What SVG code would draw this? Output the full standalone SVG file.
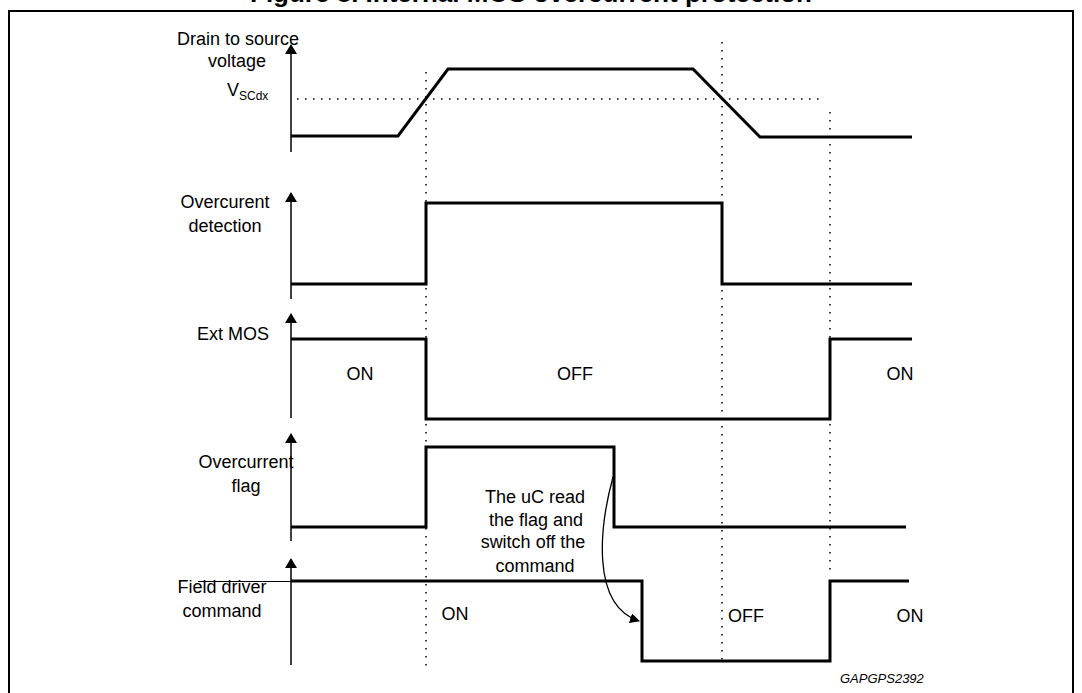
<svg xmlns="http://www.w3.org/2000/svg" width="1082" height="693" viewBox="0 0 1082 693">
<style>
text{font-family:"Liberation Sans",Arial,sans-serif;fill:#000}
.lbl{font-size:18px;text-anchor:middle}
.wave{fill:none;stroke:#000;stroke-width:3;stroke-linejoin:miter}
.axis{stroke:#000;stroke-width:1.5;fill:none}
.dot{stroke:#000;stroke-width:1.5;stroke-dasharray:1.5 6.5;fill:none}
</style>
<defs>
<marker id="ah" markerWidth="10" markerHeight="10" refX="9" refY="5" orient="auto" markerUnits="userSpaceOnUse">
<path d="M0,0 L10,5 L0,10 Z" fill="#000"/>
</marker>
</defs>
<text x="250" y="1.5" style="font-size:26px;font-weight:bold">Figure 8. Internal MOS overcurrent protection</text>
<rect x="9" y="11" width="1064" height="700" fill="none" stroke="#000" stroke-width="2"/>

<g id="guides">
<line class="dot" x1="297" y1="99" x2="824" y2="99"/>
<line class="dot" x1="426" y1="72" x2="426" y2="666"/>
<line class="dot" x1="722" y1="42" x2="722" y2="666"/>
<line class="dot" x1="830" y1="112" x2="830" y2="576"/>
</g>

<g id="drain-voltage">
<line class="axis" x1="291" y1="52" x2="291" y2="152"/>
<path d="M285,54 L291,44 L297,54 Z"/>
<text class="lbl" x="238" y="45">Drain to source</text>
<text class="lbl" x="237" y="67">voltage</text>
<text x="227" y="96" style="font-size:18px">V<tspan dy="4" style="font-size:12px">SCdx</tspan></text>
<path class="wave" d="M291,136 L398,136 L448,69 L693,69 L760,137 L912,137"/>
</g>

<g id="overcurrent-detection">
<line class="axis" x1="291" y1="200" x2="291" y2="299"/>
<path d="M285,202 L291,192 L297,202 Z"/>
<text class="lbl" x="225" y="208">Overcurent</text>
<text class="lbl" x="225" y="232">detection</text>
<path class="wave" d="M291,284 L426,284 L426,203 L722,203 L722,284 L912,284"/>
</g>

<g id="ext-mos">
<line class="axis" x1="291" y1="321" x2="291" y2="418"/>
<path d="M285,323 L291,313 L297,323 Z"/>
<text class="lbl" x="233" y="340">Ext MOS</text>
<path class="wave" d="M291,339 L426,339 L426,419 L830,419 L830,339 L912,339"/>
<text class="lbl" x="360" y="380">ON</text>
<text class="lbl" x="575" y="380">OFF</text>
<text class="lbl" x="900" y="380">ON</text>
</g>

<g id="overcurrent-flag">
<line class="axis" x1="291" y1="441" x2="291" y2="541"/>
<path d="M285,443 L291,433 L297,443 Z"/>
<text class="lbl" x="246" y="468">Overcurrent</text>
<text class="lbl" x="246" y="492">flag</text>
<path class="wave" d="M291,527 L426,527 L426,447 L614,447 L614,527 L906,527"/>
</g>

<g id="field-driver">
<line class="axis" x1="291" y1="566" x2="291" y2="665"/>
<path d="M285,568 L291,558 L297,568 Z"/>
<line x1="198" y1="581.5" x2="291" y2="581.5" stroke="#000" stroke-width="1"/>
<text class="lbl" x="222" y="593">Field driver</text>
<text class="lbl" x="222" y="617">command</text>
<path class="wave" d="M291,581 L642,581 L642,661 L830,661 L830,581 L909,581"/>
<text class="lbl" x="455" y="620">ON</text>
<text class="lbl" x="746" y="622">OFF</text>
<text class="lbl" x="910" y="622">ON</text>
</g>

<g id="annotation">
<text class="lbl" x="535" y="503">The uC read</text>
<text class="lbl" x="536" y="526">the flag and</text>
<text class="lbl" x="533" y="548">switch off the</text>
<text class="lbl" x="535" y="572">command</text>
</g>

<g id="connectors">
<path d="M613,477 C600,525 590,605 639,621" fill="none" stroke="#000" stroke-width="1.3" marker-end="url(#ah)"/>
</g>

<text x="840" y="683" style="font-size:13px;font-style:italic">GAPGPS2392</text>
</svg>
